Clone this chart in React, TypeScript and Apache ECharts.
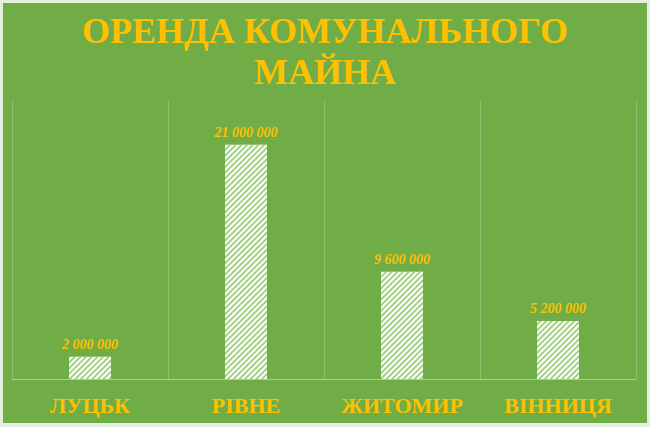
import { useEffect, useRef } from 'react'
import * as echarts from 'echarts'

const TITLE = 'ОРЕНДА КОМУНАЛЬНОГО\nМАЙНА'
const CITIES = ['ЛУЦЬК', 'РІВНЕ', 'ЖИТОМИР', 'ВІННИЦЯ']
const RENT = [2000000, 21000000, 9600000, 5200000]

const GOLD = '#FFC000'
const GREEN = '#70AD47'
const SERIF = "'Liberation Serif', 'Times New Roman', serif"

// 1 000 000 style grouping
const fmt = (v: number) => String(v).replace(/\B(?=(\d{3})+(?!\d))/g, ' ')

export default function App() {
  const elRef = useRef<HTMLDivElement>(null)

  useEffect(() => {
    if (!elRef.current) return
    document.body.style.margin = '0'
    const chart = echarts.init(elRef.current, null, { renderer: 'svg' })
    chart.setOption({
      animation: false,
      backgroundColor: GREEN,
      title: {
        text: TITLE,
        left: 'center',
        top: 2,
        textStyle: {
          color: GOLD,
          fontFamily: SERIF,
          fontWeight: 'bold',
          fontSize: 36,
          lineHeight: 41,
        },
      },
      grid: { left: 9, right: 11, top: 97, bottom: 44 },
      xAxis: {
        type: 'category',
        data: CITIES,
        axisTick: { show: false },
        axisLine: { lineStyle: { color: '#a9d18e', width: 1 } },
        splitLine: { show: true, interval: 0, lineStyle: { color: 'rgba(255,255,255,0.22)', width: 1 } },
        axisLabel: {
          interval: 0,
          hideOverlap: false,
          color: GOLD,
          fontFamily: SERIF,
          fontWeight: 'bold',
          fontSize: 22,
          margin: 15,
        },
      },
      yAxis: {
        type: 'value',
        min: 0,
        max: 25000000,
        show: false,
        splitLine: { show: false },
      },
      series: [
        {
          type: 'bar',
          data: RENT,
          barWidth: 42,
          itemStyle: {
            color: '#ffffff',
            decal: {
              symbol: 'rect',
              color: '#a3d186',
              dashArrayX: [1, 0],
              dashArrayY: [1.2, 2],
              rotation: -Math.PI / 4,
            },
          },
          label: {
            show: true,
            position: 'top',
            distance: 5,
            color: GOLD,
            fontFamily: SERIF,
            fontStyle: 'italic',
            fontWeight: 'bold',
            fontSize: 14,
            formatter: (p: any) => fmt(p.value),
          },
        },
      ],
    })
    return () => chart.dispose()
  }, [])

  return (
    <div style={{ position: 'fixed', left: 0, top: 0, width: 650, height: 427, background: '#e6eee0' }}>
      <div ref={elRef} style={{ position: 'absolute', left: 3, top: 3, width: 644, height: 420 }} />
    </div>
  )
}
